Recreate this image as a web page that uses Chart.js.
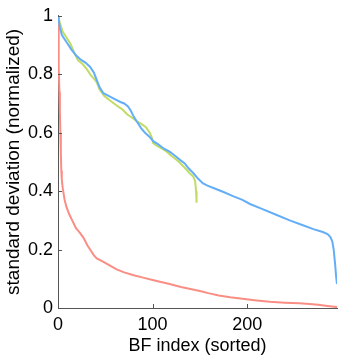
<!DOCTYPE html>
<html>
<head>
<meta charset="utf-8">
<script src="https://cdn.jsdelivr.net/npm/chart.js@4/dist/chart.umd.min.js"></script>
<style>
html,body{margin:0;padding:0;background:#fff;}
#wrap{width:340px;height:357px;position:relative;}
</style>
</head>
<body>
<div id="wrap"><canvas id="c" width="340" height="357"></canvas></div>
<script>
const blueX = [0,2,4,7,10,14,19,24,29,34,38,41,44,48,54,60,66,70,74,77,80,84,88,92,97,101,106,112,118,124,129,134,138,143,148,153,158,165,175,185,195,203,215,230,245,259,270,280,285,288,290,291.5,293,294,295];
const blueY = [1,0.96,0.935,0.92,0.905,0.885,0.865,0.85,0.84,0.825,0.805,0.78,0.755,0.735,0.725,0.715,0.705,0.7,0.69,0.675,0.655,0.635,0.615,0.6,0.585,0.57,0.56,0.545,0.535,0.52,0.507,0.495,0.478,0.462,0.443,0.427,0.419,0.41,0.397,0.383,0.37,0.356,0.34,0.32,0.3,0.283,0.27,0.26,0.253,0.243,0.228,0.2,0.15,0.11,0.082];

const greenX = [0,2,5,9,13,17,21,26,31,35,38,41,44,49,55,62,68,73,78,83,88,93,97,99,100.5,104,110,115,120,125,129,134,139,143,145,146,146.5];
const greenY = [1,0.975,0.945,0.926,0.905,0.875,0.848,0.835,0.815,0.795,0.785,0.772,0.748,0.725,0.71,0.693,0.68,0.663,0.652,0.64,0.63,0.619,0.6,0.585,0.565,0.556,0.545,0.535,0.52,0.508,0.496,0.48,0.462,0.45,0.434,0.4,0.36];

const redX = [0,0.5,1,1.5,2,2.5,3,3.5,4,5,7,9,12,15,19,23,27,31,35,38,41,48,55,62,70,80,90,100,110,118,130,140,150,160,170,182,195,210,224,240,255,266,275,285,295];
const redY = [1,0.9,0.82,0.74,0.67,0.6,0.53,0.47,0.44,0.41,0.37,0.345,0.32,0.3,0.273,0.258,0.24,0.215,0.195,0.18,0.17,0.158,0.145,0.132,0.122,0.112,0.104,0.096,0.088,0.082,0.072,0.065,0.058,0.05,0.043,0.037,0.032,0.026,0.021,0.018,0.016,0.014,0.011,0.007,0.003];

const xTicks = [0,100,200];
const yTicks = [0,0.2,0.4,0.6,0.8,1];
const xTitle = 'BF index (sorted)';
const yTitle = 'standard deviation (normalized)';

function pts(xs, ys){ return xs.map((x,i)=>({x:x, y:ys[i]})); }

const FONT = "'Liberation Sans', Arial, Helvetica, sans-serif";

const inwardTicks = {
  id: 'inwardTicks',
  afterDatasetsDraw(chart){
    const ctx = chart.ctx, a = chart.chartArea;
    const xs = chart.scales.x, ys = chart.scales.y;
    ctx.save();
    ctx.strokeStyle = '#555';
    ctx.lineWidth = 1;
    ctx.beginPath();
    xTicks.forEach(v=>{
      const px = Math.round(xs.getPixelForValue(v)) + 0.5;
      ctx.moveTo(px, a.bottom); ctx.lineTo(px, a.bottom - 4);
    });
    yTicks.forEach(v=>{
      const py = Math.round(ys.getPixelForValue(v)) + 0.5;
      ctx.moveTo(a.left, py); ctx.lineTo(a.left + 4, py);
    });
    ctx.stroke();
    ctx.restore();
  }
};

new Chart(document.getElementById('c'), {
  type: 'line',
  data: {
    datasets: [
      {data: pts(blueX, blueY), borderColor: 'rgb(100,174,248)', borderWidth: 2, pointRadius: 0, tension: 0, fill: false},
      {data: pts(greenX, greenY), borderColor: 'rgb(192,220,100)', borderWidth: 2, pointRadius: 0, tension: 0, fill: false},
      {data: pts(redX, redY), borderColor: 'rgb(250,142,132)', borderWidth: 2, pointRadius: 0, tension: 0, fill: false}
    ]
  },
  options: {
    responsive: false,
    animation: false,
    layout: {padding: {left: 0, top: 8, right: 3, bottom: 0}},
    plugins: {legend: {display: false}, tooltip: {enabled: false}},
    scales: {
      x: {
        type: 'linear', min: 0, max: 295,
        afterBuildTicks(s){ s.ticks = xTicks.map(v=>({value:v})); },
        afterFit(s){ s.height = 49; },
        ticks: {color: '#000', font: {family: FONT, size: 18}, padding: 6, maxRotation: 0, callback: v => String(v)},
        grid: {display: true, drawOnChartArea: false, drawTicks: false},
        border: {display: true, color: '#555', width: 1},
        title: {display: true, text: xTitle, color: '#000', font: {family: FONT, size: 18}, padding: {top: 0, bottom: 0}}
      },
      y: {
        type: 'linear', min: 0, max: 1,
        afterBuildTicks(s){ s.ticks = yTicks.map(v=>({value:v})); },
        afterFit(s){ s.width = 58; },
        ticks: {color: '#000', font: {family: FONT, size: 18}, padding: 5, callback: v => String(Math.round(v*10)/10)},
        grid: {display: true, drawOnChartArea: false, drawTicks: false},
        border: {display: true, color: '#555', width: 1},
        title: {display: true, text: yTitle, color: '#000', font: {family: FONT, size: 19}, padding: {top: 2, bottom: 0}}
      }
    }
  },
  plugins: [inwardTicks]
});
</script>
</body>
</html>
